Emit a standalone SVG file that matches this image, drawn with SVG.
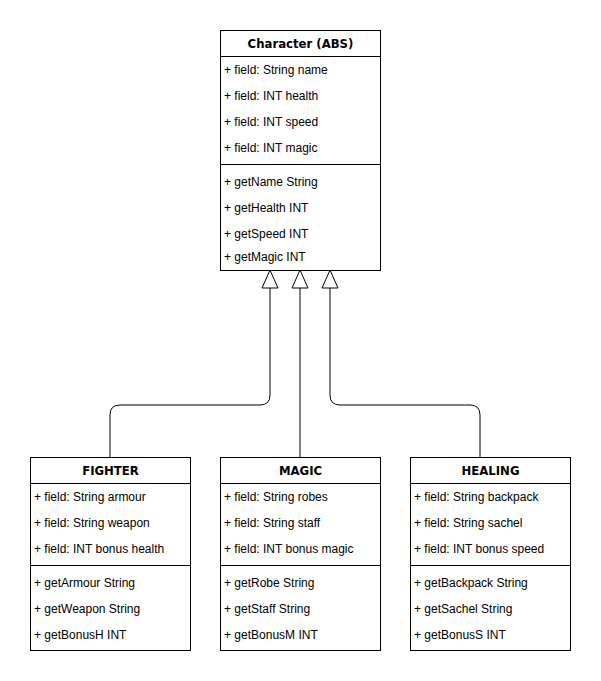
<svg xmlns="http://www.w3.org/2000/svg" width="601" height="681" viewBox="0 0 601 681">
<defs>
<style>
.box{fill:#fff;stroke:#000;stroke-width:1}
.ln{stroke:#000;stroke-width:1;fill:none}
.h{font-family:"DejaVu Sans",Verdana,sans-serif;font-weight:bold;font-size:11.7px;text-anchor:middle;fill:#000}
.t{font-family:"Liberation Sans",Arial,Helvetica,sans-serif;font-size:12px;fill:#000}
.e{fill:none;stroke:#000;stroke-width:1}
</style>
</defs>
<rect width="601" height="681" fill="#fff"/>
<g id="connectors">
<path class="e" d="M270,288 L270,395 Q270,405 260,405 L120,405 Q110,405 110,415 L110,457"/>
<path class="e" d="M300,288 L300,457"/>
<path class="e" d="M330,288 L330,395 Q330,405 340,405 L470,405 Q480,405 480,415 L480,457"/>
<path d="M270,270 L278,288 L262,288 Z" fill="#fff" stroke="#000"/>
<path d="M300,270 L308,288 L292,288 Z" fill="#fff" stroke="#000"/>
<path d="M330,270 L338,288 L322,288 Z" fill="#fff" stroke="#000"/>
</g>
<g id="character">
<rect class="box" x="220.5" y="30.5" width="160" height="240"/>
<line class="ln" x1="220" y1="56.5" x2="381" y2="56.5"/>
<line class="ln" x1="220" y1="164.5" x2="381" y2="164.5"/>
<text class="h" x="300.5" y="48">Character (ABS)</text>
<text class="t" x="224" y="74">+ field: String name</text>
<text class="t" x="224" y="100">+ field: INT health</text>
<text class="t" x="224" y="126">+ field: INT speed</text>
<text class="t" x="224" y="152">+ field: INT magic</text>
<text class="t" x="224" y="186">+ getName String</text>
<text class="t" x="224" y="212">+ getHealth INT</text>
<text class="t" x="224" y="238">+ getSpeed INT</text>
<text class="t" x="224" y="261">+ getMagic INT</text>
</g>
<g id="fighter">
<rect class="box" x="30.5" y="457.5" width="160" height="193"/>
<line class="ln" x1="30" y1="483.5" x2="191" y2="483.5"/>
<line class="ln" x1="30" y1="565.5" x2="191" y2="565.5"/>
<text class="h" x="110.5" y="475">FIGHTER</text>
<text class="t" x="34" y="501">+ field: String armour</text>
<text class="t" x="34" y="527">+ field: String weapon</text>
<text class="t" x="34" y="553">+ field: INT bonus health</text>
<text class="t" x="34" y="587">+ getArmour String</text>
<text class="t" x="34" y="613">+ getWeapon String</text>
<text class="t" x="34" y="639">+ getBonusH INT</text>
</g>
<g id="magic">
<rect class="box" x="220.5" y="457.5" width="160" height="193"/>
<line class="ln" x1="220" y1="483.5" x2="381" y2="483.5"/>
<line class="ln" x1="220" y1="565.5" x2="381" y2="565.5"/>
<text class="h" x="300.5" y="475">MAGIC</text>
<text class="t" x="224" y="501">+ field: String robes</text>
<text class="t" x="224" y="527">+ field: String staff</text>
<text class="t" x="224" y="553">+ field: INT bonus magic</text>
<text class="t" x="224" y="587">+ getRobe String</text>
<text class="t" x="224" y="613">+ getStaff String</text>
<text class="t" x="224" y="639">+ getBonusM INT</text>
</g>
<g id="healing">
<rect class="box" x="410.5" y="457.5" width="160" height="193"/>
<line class="ln" x1="410" y1="483.5" x2="571" y2="483.5"/>
<line class="ln" x1="410" y1="565.5" x2="571" y2="565.5"/>
<text class="h" x="490.5" y="475">HEALING</text>
<text class="t" x="414" y="501">+ field: String backpack</text>
<text class="t" x="414" y="527">+ field: String sachel</text>
<text class="t" x="414" y="553">+ field: INT bonus speed</text>
<text class="t" x="414" y="587">+ getBackpack String</text>
<text class="t" x="414" y="613">+ getSachel String</text>
<text class="t" x="414" y="639">+ getBonusS INT</text>
</g>
</svg>
